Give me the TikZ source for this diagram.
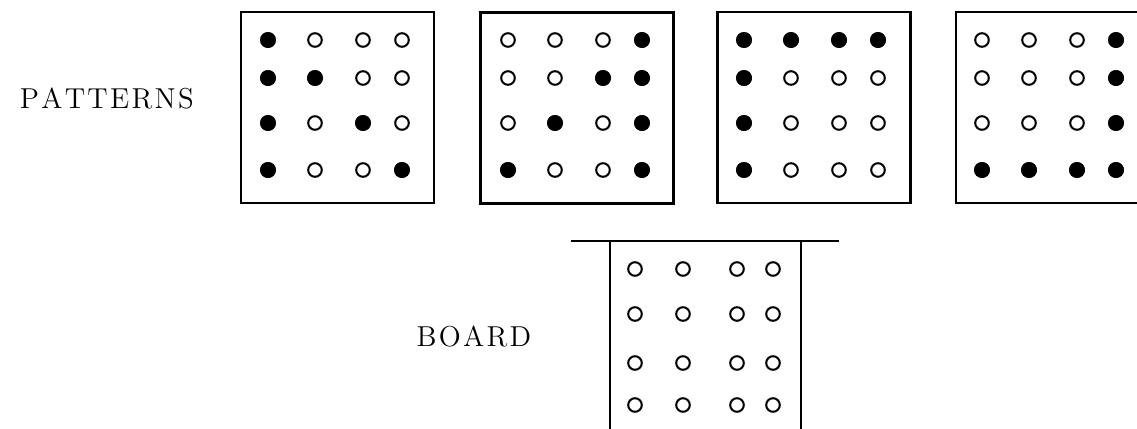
\documentclass[tikz,border=0pt]{standalone}
\newcommand\spacedword[1]{\spacedloop#1\relax}
\def\spacedloop#1{\ifx#1\relax\else#1\kern.08em\expandafter\spacedloop\fi}
\begin{document}
\begin{tikzpicture}[x=0.5pt,y=-0.5pt]
\tikzset{
  frame/.style={draw=black,line width=1.1pt,minimum width=96.5pt,minimum height=95.5pt,inner sep=0pt},
  hole/.style={draw=black,line width=1pt,fill=white},
  full/.style={fill=black},
  lab/.style={font=\fontsize{14.4}{17}\selectfont,inner sep=0pt}
}
\useasboundingbox (0,0) rectangle (1137,429);
\clip (0,0) rectangle (1137,429);
\node[lab] (patlab) at (108,98.5) {\spacedword{PATTERNS}};
\node[lab] (boardlab) at (475,337) {\spacedword{BOARD}};
% pattern frames, the last one runs off the page
\node[frame] (p1) at (337.5,107.5) {};
\node[frame] (p2) at (577,108) {};
\node[frame] (p3) at (814,107.5) {};
\node[frame] (p4) at (1052.5,107.5) {};
% board: open at the bottom
\coordinate (btl) at (571,241);
\coordinate (btr) at (839,241);
\coordinate (bl) at (610,241);
\coordinate (br) at (801,241);
\draw[line width=1.1pt] (btl) -- (btr);
\draw[line width=1.1pt] (bl) -- (bl |- 0,440);
\draw[line width=1.1pt] (br) -- (br |- 0,440);
% hole positions
\foreach \n/\bx in {1/241,2/481,3/717,4/955}
  \foreach \dx [count=\c] in {27,74,122,161}
    \foreach \dy [count=\r] in {28,66,111,158}
      \coordinate (d\n-\c-\r) at (\bx+\dx,12+\dy);
\foreach \dx [count=\c] in {25,73,127,163}
  \foreach \dy [count=\r] in {28,73,122,164}
    \coordinate (b-\c-\r) at (610+\dx,241+\dy);
\foreach \n in {1,...,4}
  \foreach \c in {1,...,4}
    \foreach \r in {1,...,4}
      \draw[hole] (d\n-\c-\r) circle (3.4pt);
\foreach \c in {1,...,4}
  \foreach \r in {1,...,4}
    \draw[hole] (b-\c-\r) circle (3.4pt);
% filled holes
\foreach \d in {1-1-1,1-1-2,1-2-2,1-1-3,1-3-3,1-1-4,1-4-4,
                2-4-1,2-3-2,2-4-2,2-2-3,2-4-3,2-1-4,2-4-4,
                3-1-1,3-2-1,3-3-1,3-4-1,3-1-2,3-1-3,3-1-4,
                4-4-1,4-4-2,4-4-3,4-1-4,4-2-4,4-3-4,4-4-4}
  \fill[full] (d\d) circle (4pt);
\end{tikzpicture}
\end{document}
